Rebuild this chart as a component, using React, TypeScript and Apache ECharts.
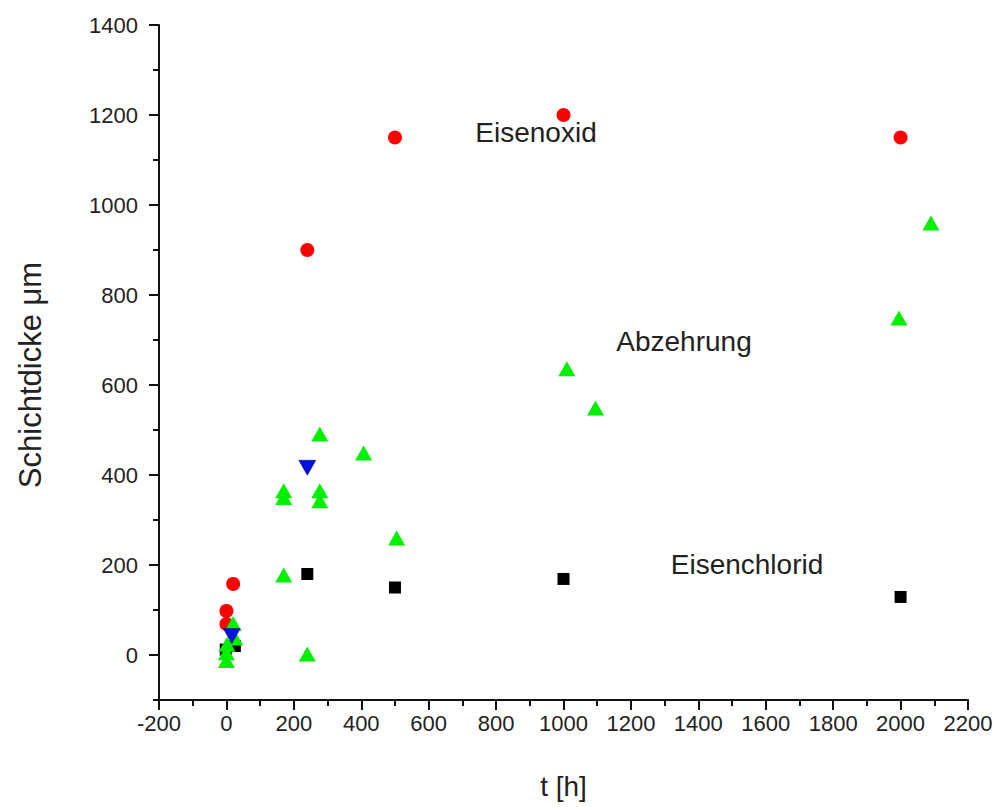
import React, { useEffect, useRef } from "react";
import * as echarts from "echarts";

const eisenoxid: [number, number][] = [
  [0, 98], [0, 69], [20, 158], [240, 900], [500, 1150], [1000, 1200], [2000, 1150],
];
const abzehrung: [number, number][] = [
  [0, -12], [0, 5], [2, 24], [25, 38], [20, 70], [170, 178], [170, 350], [170, 365],
  [240, 2], [277, 343], [277, 365], [277, 491], [407, 449], [505, 260],
  [1010, 636], [1095, 549], [1995, 749], [2090, 960],
];
const eisenchlorid: [number, number][] = [
  [-2, 12], [25, 20], [240, 180], [500, 150], [1000, 169], [2000, 129],
];
const blau: [number, number][] = [
  [16, 42], [240, 416],
];
const yTicks = [0, 200, 400, 600, 800, 1000, 1200, 1400];
const labels = [
  { text: "Eisenoxid", x: 536, y: 132 },
  { text: "Abzehrung", x: 684, y: 341 },
  { text: "Eisenchlorid", x: 747, y: 564 },
];
const yTitle = "Schichtdicke μm";
const xTitle = "t [h]";

export default function App() {
  const ref = useRef<HTMLDivElement>(null);
  useEffect(() => {
    const chart = echarts.init(ref.current!, null, { renderer: "svg" });
    const font = "Liberation Sans, Arial, sans-serif";
    const axisColor = "#111";
    chart.setOption({
      animation: false,
      backgroundColor: "#fff",
      grid: { left: 159, right: 30, top: 25, bottom: 107, outerBoundsMode: "none" },
      xAxis: {
        type: "value",
        min: -200,
        max: 2200,
        interval: 200,
        name: xTitle,
        nameLocation: "middle",
        nameGap: 72,
        nameTextStyle: { fontFamily: font, fontSize: 28, color: "#222" },
        axisLine: { show: true, onZero: false, lineStyle: { color: axisColor, width: 2 } },
        axisTick: { show: true, length: 10, lineStyle: { color: axisColor, width: 2 } },
        minorTick: { show: true, splitNumber: 2, length: 6, lineStyle: { color: axisColor, width: 2 } },
        axisLabel: {
          fontFamily: font, fontSize: 22, color: "#222", margin: 12,
          formatter: (v: number) => String(v),
        },
        splitLine: { show: false },
        minorSplitLine: { show: false },
      },
      yAxis: [
        {
          type: "value",
          min: -100,
          max: 1400,
          interval: 100,
          axisLine: { show: true, onZero: false, lineStyle: { color: axisColor, width: 2 } },
          axisTick: { show: true, length: 10, customValues: yTicks, lineStyle: { color: axisColor, width: 2 } },
          axisLabel: {
            fontFamily: font, fontSize: 22, color: "#222", margin: 21,
            customValues: yTicks,
            formatter: (v: number) => String(v),
          },
          splitLine: { show: false },
        },
        {
          type: "value",
          position: "left",
          offset: 0,
          min: -100,
          max: 1400,
          interval: 100,
          axisLine: { show: false, onZero: false },
          axisTick: { show: true, length: 6, lineStyle: { color: axisColor, width: 2 } },
          axisLabel: { show: false },
          splitLine: { show: false },
        },
      ],
      series: [
        {
          type: "scatter", name: "Eisenchlorid", data: eisenchlorid,
          symbol: "rect", symbolSize: 12, itemStyle: { color: "#000", opacity: 1 },
        },
        {
          type: "scatter", name: "Eisenoxid", data: eisenoxid,
          symbol: "circle", symbolSize: 14, itemStyle: { color: "#ff0000", opacity: 1 },
        },
        {
          type: "scatter", name: "Abzehrung", data: abzehrung,
          symbol: "triangle", symbolSize: [17, 15], itemStyle: { color: "#00f000", opacity: 1 },
        },
        {
          type: "scatter", name: "blau", data: blau,
          symbol: "triangle", symbolRotate: 180, symbolSize: [17, 15],
          itemStyle: { color: "#0010e0", borderColor: "#000066", borderWidth: 0.5, opacity: 1 },
        },
      ],
      graphic: [
        ...labels.map((l) => ({
          type: "text",
          x: l.x,
          y: l.y,
          style: {
            text: l.text, fontFamily: font, fontSize: 28, fill: "#222",
            textAlign: "center", textVerticalAlign: "middle",
          },
        })),
        {
          type: "text",
          x: 30,
          y: 375,
          rotation: Math.PI / 2,
          style: {
            text: yTitle, fontFamily: font, fontSize: 31, fill: "#222",
            textAlign: "center", textVerticalAlign: "middle",
          },
        },
      ],
    });
    return () => chart.dispose();
  }, []);
  return (
    <div
      ref={ref}
      style={{ position: "absolute", left: 0, top: 0, width: 998, height: 807 }}
    />
  );
}
